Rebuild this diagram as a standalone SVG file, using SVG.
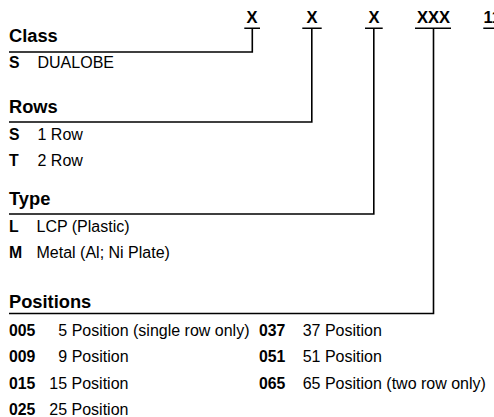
<svg xmlns="http://www.w3.org/2000/svg" width="494" height="417" viewBox="0 0 494 417">
<style>
text{font-family:"Liberation Sans",Arial,sans-serif;fill:#000}
.h{font-size:18.3px;font-weight:bold}
.c{font-size:15.8px;font-weight:bold}
.d{font-size:16px}
.x{font-size:16.5px;font-weight:bold;text-anchor:middle}
.ln{fill:none;stroke:#000;stroke-width:1.6}
</style>
<rect width="494" height="417" fill="#fff"/>
<g id="code">
<text class="x" x="252" y="22.6">X</text>
<text class="x" x="312" y="22.6">X</text>
<text class="x" x="374" y="22.6">X</text>
<text class="x" x="433.5" y="22.6">XXX</text>
<text class="x" x="483.5" y="22.6" style="text-anchor:start">11</text>
</g>
<g id="connectors">
<path class="ln" d="M244.3,28.3H260M302.3,28.3H321.7M365,28.3H382.7M415,28.3H451M483.3,28.3H494"/>
<polyline class="ln" points="9,52 252.3,52 252.3,28.3"/>
<polyline class="ln" points="9,122 311.8,122 311.8,28.3"/>
<polyline class="ln" points="9,214 373.8,214 373.8,28.3"/>
<polyline class="ln" points="9,313.5 433.5,313.5 433.5,28.3"/>
</g>
<g id="class">
<text class="h" x="9" y="41.7">Class</text>
<text class="c" x="9" y="67.8">S</text>
<text class="d" x="37.5" y="67.8">DUALOBE</text>
</g>
<g id="rows">
<text class="h" x="9" y="113.3">Rows</text>
<text class="c" x="9" y="140">S</text>
<text class="d" x="37.5" y="140">1 Row</text>
<text class="c" x="9" y="166">T</text>
<text class="d" x="37.5" y="166">2 Row</text>
</g>
<g id="type">
<text class="h" x="9" y="205.3">Type</text>
<text class="c" x="9" y="231.7">L</text>
<text class="d" x="36.5" y="231.7">LCP (Plastic)</text>
<text class="c" x="9" y="258.3">M</text>
<text class="d" x="36.5" y="258.3">Metal (Al; Ni Plate)</text>
</g>
<g id="positions">
<text class="h" x="9" y="308">Positions</text>
<text class="c" x="9" y="335.5">005</text>
<text class="d" x="58.3" y="335.5">5 Position (single row only)</text>
<text class="c" x="9" y="362">009</text>
<text class="d" x="58.3" y="362">9 Position</text>
<text class="c" x="9" y="388.5">015</text>
<text class="d" x="49.3" y="388.5">15 Position</text>
<text class="c" x="9" y="414.5">025</text>
<text class="d" x="49.3" y="414.5">25 Position</text>
<text class="c" x="259" y="335.5">037</text>
<text class="d" x="302.7" y="335.5">37 Position</text>
<text class="c" x="259" y="362">051</text>
<text class="d" x="302.7" y="362">51 Position</text>
<text class="c" x="259" y="388.5">065</text>
<text class="d" x="302.7" y="388.5">65 Position (two row only)</text>
</g>
</svg>
